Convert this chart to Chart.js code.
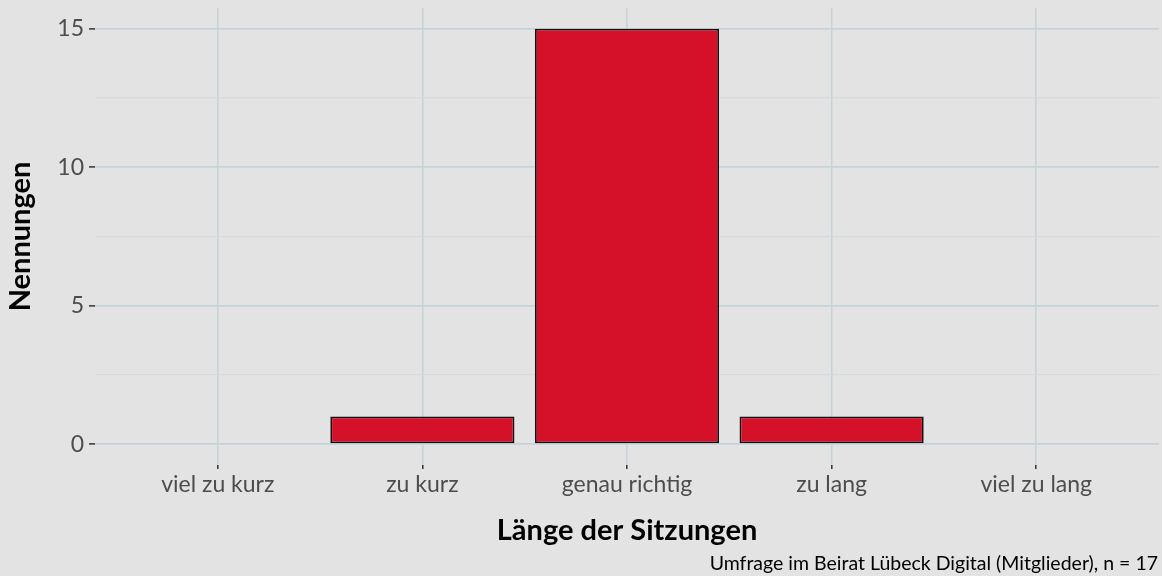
<!DOCTYPE html>
<html><head><meta charset="utf-8">
<script src="https://cdn.jsdelivr.net/npm/chart.js@4"></script>
<style>html,body{margin:0;padding:0;background:#e3e3e3;}#w{width:1162px;height:576px;}</style>
</head><body><div id="w"><canvas id="c"></canvas></div>
<script>
const categories = ['viel zu kurz', 'zu kurz', 'genau richtig', 'zu lang', 'viel zu lang'];
const counts = [0, 1, 15, 1, 0];
const yTicks = [0, 2.5, 5, 7.5, 10, 12.5, 15];
const yLabels = ['0', '', '5', '', '10', '', '15'];
const xTitle = 'Länge der Sitzungen';
const yTitle = 'Nennungen';
const caption = 'Umfrage im Beirat Lübeck Digital (Mitglieder), n = 17';

const FONT = 'Lato, "Open Sans", sans-serif';
const MAJOR = '#c4d3d8', MINOR = '#d5dbdd';

const captionPlugin = {
  id: 'caption',
  afterDraw(chart) {
    const ctx = chart.ctx;
    ctx.save();
    ctx.font = '19.5px ' + FONT;
    ctx.fillStyle = '#000';
    ctx.textAlign = 'right';
    ctx.textBaseline = 'alphabetic';
    ctx.fillText(caption, 1158, 570);
    ctx.restore();
  }
};

new Chart(document.getElementById('c'), {
  type: 'bar',
  data: {
    datasets: [{
      data: categories.map((c, i) => ({x: i, y: counts[i]})),
      backgroundColor: '#d51129',
      borderColor: '#111',
      borderWidth: ctx => (ctx.raw && ctx.raw.y > 0 ? 1.8 : 0),
      borderSkipped: false,
      barPercentage: 0.9,
      categoryPercentage: 1.0
    }]
  },
  options: {
    responsive: true,
    maintainAspectRatio: false,
    animation: false,
    layout: {padding: {top: 8, right: 3, left: 0, bottom: 0}},
    plugins: {legend: {display: false}, tooltip: {enabled: false}},
    scales: {
      x: {
        type: 'linear',
        offset: false,
        min: -0.6, max: 4.6,
        afterBuildTicks: s => { s.ticks = categories.map((c, i) => ({value: i})); },
        afterFit: s => { s.height = 111; s.paddingLeft = 0; s.paddingRight = 0; },
        border: {display: false},
        grid: {offset: false, color: MAJOR, lineWidth: 1.6, tickColor: '#333', tickLength: 4, tickWidth: 1.5},
        ticks: {
          callback: (v) => categories[v] ?? '',
          color: '#4d4d4d', font: {family: FONT, size: 23}, padding: 2,
          maxRotation: 0, autoSkip: false
        },
        title: {display: true, text: xTitle, color: '#000',
          font: {family: FONT, size: 29, weight: 'bold'}, padding: {top: 0, bottom: 28}}
      },
      y: {
        min: -0.75, max: 15.75,
        afterBuildTicks: s => { s.ticks = yTicks.map(v => ({value: v})); },
        afterFit: s => { s.width = 95; s.paddingTop = 0; s.paddingBottom = 0; },
        border: {display: false},
        grid: {
          color: c => (c.tick && c.tick.value % 5 === 0 ? MAJOR : MINOR),
          lineWidth: c => (c.tick && c.tick.value % 5 === 0 ? 1.8 : 1.2),
          tickColor: c => (c.tick && c.tick.value % 5 === 0 ? '#333' : 'rgba(0,0,0,0)'),
          tickLength: 6, tickWidth: 1.5
        },
        ticks: {
          callback: (v, i) => yLabels[i],
          color: '#4d4d4d', font: {family: FONT, size: 23}, padding: 5, autoSkip: false
        },
        title: {display: true, text: yTitle, color: '#000',
          font: {family: FONT, size: 29, weight: 'bold'}, padding: {top: 3, bottom: 0}}
      }
    }
  },
  plugins: [captionPlugin]
});
</script></body></html>
